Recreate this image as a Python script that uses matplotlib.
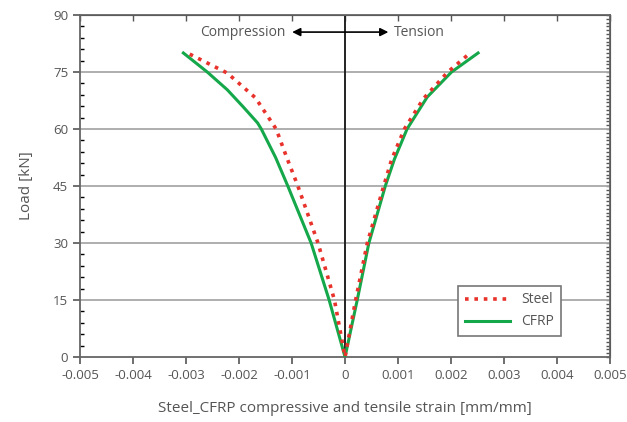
import matplotlib

matplotlib.use("Agg")
import matplotlib.pyplot as plt
from matplotlib.ticker import MultipleLocator

plt.rcParams["font.family"] = ["Open Sans", "DejaVu Sans"]

TXT = "#555555"
RED = "#e8322b"
GREEN = "#14a84a"
GRID = "#a8a8a8"

# compression side (negative strain)
steel_c_strain = [0, -0.00020, -0.00051, -0.00089, -0.00110, -0.00130, -0.00169, -0.00222, -0.00293]
steel_c_load = [0, 15, 30, 45, 52.5, 60, 68.2, 74.7, 79.7]
cfrp_c_strain = [0, -0.00030, -0.00064, -0.00108, -0.00131, -0.00158, -0.00165, -0.00192, -0.00222, -0.00260, -0.00305]
cfrp_c_load = [0, 15, 30, 45, 52.5, 60, 61.6, 65.8, 70.3, 75, 80]

# tension side (positive strain)
steel_t_strain = [0, 0.00020, 0.00042, 0.00073, 0.00088, 0.00112, 0.00148, 0.00194, 0.00236]
steel_t_load = [0, 15, 30, 45, 52, 60, 68, 75, 80]
cfrp_t_strain = [0, 0.00023, 0.00045, 0.00076, 0.00093, 0.00117, 0.00155, 0.00201, 0.00251]
cfrp_t_load = [0, 15, 30, 45, 52, 60, 68.4, 75, 80]

x_ticks = [-0.005, -0.004, -0.003, -0.002, -0.001, 0, 0.001, 0.002, 0.003, 0.004, 0.005]
x_labels = ["-0.005", "-0.004", "-0.003", "-0.002", "-0.001", "0",
            "0.001", "0.002", "0.003", "0.004", "0.005"]
y_ticks = [0, 15, 30, 45, 60, 75, 90]

fig = plt.figure(figsize=(6.27, 4.22), dpi=100)
ax = fig.add_axes([0.1276, 0.154, 0.8454, 0.8105])

for y in y_ticks[1:-1]:
    ax.axhline(y, color=GRID, lw=1.3, zorder=1)
ax.axvline(0, color="#222222", lw=1.4, zorder=2)

steel = steel_c_strain[::-1] + steel_t_strain[1:]
steel_l = steel_c_load[::-1] + steel_t_load[1:]
cfrp = cfrp_c_strain[::-1] + cfrp_t_strain[1:]
cfrp_l = cfrp_c_load[::-1] + cfrp_t_load[1:]

ax.plot(cfrp, cfrp_l, color=GREEN, lw=2.2, label="CFRP", zorder=3)
ax.plot(steel, steel_l, color=RED, lw=2.6, ls=(0, (1, 1.6)), label="Steel", zorder=4)

ax.set_xlim(-0.005, 0.005)
ax.set_ylim(0, 90)
ax.set_xticks(x_ticks)
ax.set_xticklabels(x_labels)
ax.set_yticks(y_ticks)
ax.yaxis.set_minor_locator(MultipleLocator(3))

for s in ax.spines.values():
    s.set_color("#666666")
    s.set_linewidth(1.3)

ax.tick_params(axis="both", colors="#555555", labelcolor=TXT, labelsize=9.5)
ax.tick_params(axis="x", direction="out", length=5, width=1.2)
ax.tick_params(axis="y", which="major", direction="out", length=5, width=1.2)
ax.tick_params(axis="y", which="minor", direction="in", length=3, width=1)

# inward ticks on top and right
top = ax.secondary_xaxis("top")
top.set_xticks(x_ticks)
top.tick_params(direction="in", length=4, width=1, colors="#555555", labeltop=False)
right = ax.secondary_yaxis("right")
right.yaxis.set_major_locator(MultipleLocator(1))
right.tick_params(direction="in", length=3, width=1, colors="#555555", labelright=False)

ax.annotate("", xy=(-0.00105, 85.5), xytext=(0.00087, 85.5),
            arrowprops=dict(arrowstyle="<|-|>", color="black", lw=1.2, mutation_scale=12))
ax.text(-0.00112, 85.5, "Compression", ha="right", va="center", color=TXT, fontsize=10)
ax.text(0.00093, 85.5, "Tension", ha="left", va="center", color=TXT, fontsize=10)

ax.set_xlabel("Steel_CFRP compressive and tensile strain [mm/mm]", color=TXT, fontsize=11, labelpad=14)
ax.set_ylabel("Load [kN]", color=TXT, fontsize=11, labelpad=14)

handles, labels = ax.get_legend_handles_labels()
leg = ax.legend(handles[::-1], labels[::-1], loc="lower right", bbox_to_anchor=(0.92, 0.04),
                fontsize=10, frameon=True, fancybox=False, edgecolor="#777777",
                markerfirst=True, handlelength=3.2, labelcolor=TXT, borderpad=0.5)
leg.get_frame().set_linewidth(1.2)
leg.get_frame().set_alpha(1)

fig.savefig("out.png", dpi=100)
